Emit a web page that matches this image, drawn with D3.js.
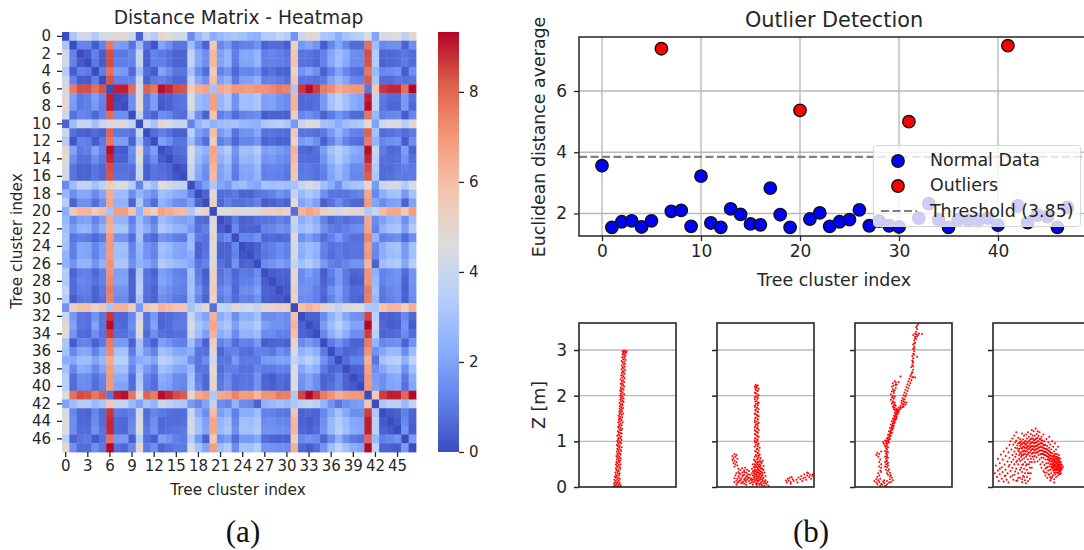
<!DOCTYPE html>
<html><head><meta charset="utf-8">
<script src="https://cdn.jsdelivr.net/npm/d3@7"></script>
<style>html,body{margin:0;background:#fff}svg{display:block}text{font-family:"DejaVu Sans",sans-serif;fill:#262626}</style>
</head><body><svg id="c" width="1084" height="550"></svg>
<script>
// upper triangle of the distance matrix: row r holds columns r+1..47
const distanceRows = [
[3.15,4.2,4.2,3.3,4.3,4.4,5,5,4.1,.5,4.1,3.3,5,4.8,4.3,4.3,1.4,2.65,3.4,2.25,2.65,2.9,3.15,2.9,2.5,2.4,3.3,3.3,3.9,3.4,1.6,4.1,5,4.6,3.15,3.0,2.25,3.0,3.4,3.5,4.6,2.0,4.4,4.6,4.7,3.5,5],
[1.2,1.2,.35,1.2,7.6,1.9,1.75,.8,2.8,.8,.2,2.0,1.5,.9,.9,2.8,1.5,.5,5.6,1.3,1.75,.9,1.1,1.1,1.6,.5,.7,.7,.35,5.3,1.75,2.0,1.6,.35,1.3,2.1,1.3,.7,.7,7.8,2.8,1.3,1.5,1.5,.5,1.5],
[.3,1.2,.35,8.4,1.0,1.0,1.3,3.9,.45,1.2,1.0,.8,.5,.5,3.8,2.1,1.5,6.2,1.9,2.5,1.1,2.1,2.1,2.5,1.1,1.3,1.1,.9,5.8,.9,.9,.7,1.2,2.1,2.8,2.25,1.5,1.4,8.4,3.3,.6,.6,.7,.9,.7],
[1.0,.3,8.4,1.1,1.1,1.2,3.9,.35,1.1,1.1,.8,.5,.5,3.8,2.1,1.5,6.2,2.0,2.5,1.0,2.0,2.0,2.5,1.1,1.2,1.1,1.0,5.9,.8,.8,.6,1.2,2.1,2.8,2.1,1.4,1.4,8.3,3.3,.5,.6,.7,1.0,.7],
[1.1,7.8,1.9,1.75,.6,2.9,.7,.3,2.0,1.5,.9,.9,2.9,1.4,.7,5.4,1.2,1.6,.6,1.3,1.2,1.6,.6,.8,.5,.45,5.1,1.6,2.0,1.5,.45,1.2,2.0,1.3,.8,.7,7.7,2.65,1.3,1.4,1.6,.3,1.5],
[8.3,1.2,1.1,1.2,4.0,.45,1.0,1.2,.9,.6,.6,3.8,2.1,1.5,6.0,1.9,2.4,1.0,1.9,1.9,2.4,1.1,1.2,1.0,.8,5.7,.9,.9,.8,1.0,2.0,2.65,2.0,1.3,1.2,8.2,3.15,.7,.7,.9,.8,.9],
[9.0,9.0,7.9,4.4,8.1,7.7,9.2,8.9,8.4,8.3,5.4,6.5,6.7,3.0,6.6,6.4,7.0,7.0,6.9,7.1,7.1,7.3,7.6,7.4,3.1,8.7,9.25,8.6,7.6,7.3,6.5,6.8,7.0,7.0,.9,5.6,8.7,8.9,8.9,7.8,9.3],
[.2,1.5,4.8,1.0,1.9,.35,.5,.8,.9,4.6,2.8,2.4,6.8,2.5,3.15,1.6,2.9,2.8,3.15,1.9,2.0,1.6,1.4,6.3,.6,.7,.8,1.75,3.0,3.5,2.9,2.25,2.0,9.0,3.9,1.0,.7,.7,1.75,.8],
[1.5,4.8,1.0,1.9,.3,.45,.8,.9,4.6,2.8,2.4,6.8,2.5,3.15,1.6,2.9,2.8,3.15,1.9,2.0,1.6,1.4,6.3,.6,.6,.8,1.75,3.0,3.5,2.9,2.25,2.0,9.2,3.9,.9,.6,.6,1.75,.6],
[3.8,.8,.5,1.5,1.3,.8,.7,3.4,1.5,.45,5.8,1.1,1.5,.7,1.2,1.3,1.5,.35,.5,.5,.45,5.4,1.3,1.5,1.2,.45,1.0,1.6,1.2,.7,.7,7.7,2.65,1.1,1.3,1.4,.35,1.3],
[4.0,3.0,4.9,4.6,4.0,4.0,1.2,2.5,3.15,2.4,2.8,2.9,3.0,2.65,2.5,2.4,3.15,3.3,3.5,3.15,1.75,4.1,4.7,4.5,3.0,2.8,2.25,2.8,3.15,3.3,4.7,2.0,4.2,4.5,4.6,3.4,4.9],
[.7,1.1,.8,.45,.45,3.5,1.9,1.4,6.0,1.75,2.25,.9,1.6,1.6,2.1,.8,.9,.8,.7,5.6,.9,.9,.7,1.0,1.75,2.5,1.75,1.2,1.1,8.1,3.0,.7,.8,1.0,.7,1.0],
[1.9,1.5,.9,.9,2.8,1.5,.7,5.3,1.1,1.5,.6,1.3,1.2,1.6,.5,.7,.5,.5,5.1,1.75,2.0,1.5,.45,1.2,2.0,1.2,.8,.7,7.6,2.5,1.3,1.5,1.6,.35,1.5],
[.3,.7,.8,4.7,2.9,2.4,6.7,2.8,3.3,1.6,2.9,2.8,3.3,1.9,2.0,1.75,1.5,6.3,.6,.5,.8,1.9,3.0,3.5,2.9,2.25,2.1,9.2,4.0,1.0,.6,.7,1.9,.5],
[.5,.6,4.4,2.65,2.0,6.5,2.4,2.9,1.4,2.65,2.5,3.0,1.6,1.75,1.5,1.3,6.1,.7,.7,.7,1.6,2.65,3.3,2.65,2.0,1.9,8.9,3.7,.8,.7,.8,1.6,.8],
[.2,3.9,2.25,1.5,6.2,2.0,2.5,1.1,2.1,2.1,2.65,1.2,1.3,1.2,1.0,5.8,.9,1.0,.8,1.2,2.1,2.8,2.1,1.4,1.4,8.4,3.3,.7,.7,.9,1.1,1.0],
[3.8,2.1,1.4,6.1,1.9,2.4,1.0,2.0,2.0,2.5,1.1,1.2,1.1,.9,5.7,1.0,1.0,.8,1.1,2.0,2.65,2.0,1.3,1.3,8.2,3.15,.7,.8,1.0,1.0,1.0],
[1.1,1.9,3.15,2.1,1.75,2.65,2.8,2.25,2.1,3.0,2.9,3.0,2.8,3.0,4.0,4.5,4.1,2.9,2.25,1.5,2.65,3.0,3.15,4.9,1.75,4.0,4.3,4.3,3.3,4.6],
[.5,4.6,.7,.8,1.0,.5,.5,.9,1.0,1.2,1.6,1.3,3.8,2.65,3.15,2.8,1.5,.9,.9,.9,1.1,1.3,6.6,1.3,2.25,2.9,3.0,1.75,3.0],
[5.2,.6,1.1,.8,.8,.9,1.2,.35,.5,.7,.5,4.8,2.0,2.5,1.9,.45,.8,1.4,.9,.6,.6,6.9,2.0,1.4,1.9,2.0,.45,2.0],
[4.6,4.7,5.0,4.6,4.5,4.8,5.2,5.2,5.5,5.1,.8,6.3,6.7,6.3,5.3,4.9,4.2,4.8,5.0,5.0,3.2,3.9,6.1,6.6,6.6,5.6,6.8],
[.35,1.0,.45,.5,.8,.8,.9,1.2,1.0,4.0,2.25,2.8,2.25,1.2,.6,.9,.7,.9,1.0,6.6,1.4,1.9,2.5,2.65,1.5,2.8],
[1.4,.5,.5,.45,1.2,1.3,1.6,1.4,3.7,2.8,3.15,2.65,1.6,1.1,.9,1.1,1.4,1.5,6.7,1.2,2.4,3.0,3.15,1.9,3.3],
[1.3,1.2,1.6,.6,.7,.6,.7,5.0,1.5,1.9,1.4,.7,1.2,1.75,1.1,.8,.8,7.4,2.5,1.1,1.3,1.5,.7,1.4],
[.2,.45,1.0,1.1,1.4,1.2,4.3,2.4,2.8,2.5,1.2,.8,1.0,.8,.9,.9,6.8,1.4,2.25,2.9,3.0,1.75,3.0],
[.5,.9,1.1,1.4,1.1,4.4,2.25,2.8,2.4,1.1,.7,1.0,.8,.9,.9,7.0,1.3,2.25,2.8,2.9,1.75,2.9],
[1.4,1.6,1.9,1.6,3.8,2.9,3.3,2.8,1.75,1.2,1.0,1.3,1.6,1.6,6.2,.5,2.8,3.15,3.3,2.1,3.4],
[.35,.5,.45,5.0,1.4,1.9,1.4,.35,1.1,1.75,1.0,.5,.6,7.1,2.4,1.2,1.4,1.6,.7,1.6],
[.45,.35,5.0,1.4,1.6,1.4,.5,.9,1.75,1.0,.35,.45,7.1,2.65,1.2,1.5,1.6,.5,1.6],
[.3,5.3,1.6,1.6,1.1,.6,1.5,2.0,1.2,.7,.7,7.6,2.9,1.0,1.3,1.5,.45,1.5],
[5.2,1.4,1.4,1.1,.45,1.2,1.9,1.1,.6,.5,7.5,2.65,.9,1.2,1.4,.45,1.4],
[5.9,6.3,6.0,5.1,4.5,3.8,4.5,4.6,4.7,3.2,3.15,5.7,6.2,6.2,5.3,6.4],
[.45,.5,1.4,2.4,3.15,2.1,1.6,1.5,8.5,3.5,.5,.45,.6,1.3,.6],
[.35,1.75,2.8,3.5,2.8,2.0,2.0,9.3,4.0,.6,.35,.45,1.6,.3],
[1.3,2.25,3.0,2.25,1.5,1.5,8.6,3.5,.5,.6,.7,1.4,.7],
[1.0,1.6,1.0,.5,.5,7.6,2.5,1.3,1.5,1.6,.5,1.6],
[.9,.5,.6,.8,7.1,1.6,2.1,2.65,2.65,1.4,2.8],
[.7,1.2,1.2,6.4,.9,3.0,3.4,3.5,2.4,3.7],
[.45,.5,6.8,1.5,2.1,2.8,2.9,1.5,2.9],
[.3,7.0,1.75,1.5,2.1,2.25,1.0,2.25],
[7.0,1.9,1.5,2.0,2.1,.8,2.1],
[5.6,8.6,9.0,9.0,8.0,9.3],
[3.15,3.6,3.6,2.65,3.8],
[.3,.45,1.1,.5],
[.3,1.3,.45],
[1.6,.35],
[1.75]
];
const heatXTicks = [0,3,6,9,12,15,18,21,24,27,30,33,36,39,42,45];
const heatYTicks = d3.range(0,48,2);
const colorbarTicks = [0,2,4,6,8];
const coolwarmStops = ["#3b4cc0","#6282ea","#8db0fe","#b9d0f9","#dddcdc","#f5c4ac","#f4987a","#dd5f4b","#b40426"];

const avgDistance = [3.56,1.55,1.73,1.76,1.56,1.76,7.38,2.07,2.10,1.58,3.22,1.69,1.55,2.15,1.97,1.66,1.63,2.83,1.96,1.55,5.37,1.82,2.02,1.58,1.73,1.80,2.12,1.60,1.75,1.60,1.56,5.00,1.85,2.32,1.80,1.55,1.80,1.78,1.78,1.85,1.62,7.48,2.25,1.70,1.95,1.90,1.55,2.20];
const thresholdValue = 3.85;
const legendLabels = ["Normal Data","Outliers","Threshold (3.85)"];
const scatterXTicks = [0,10,20,30,40];
const scatterYTicks = [2,4,6];
const zTicks = [0,1,2,3];

const cloudA = [[.36,.01],[.39,.01],[.42,.01],[.37,.03],[.40,.03],[.43,.04],[.38,.05],[.41,.06],[.36,.07],[.39,.08],[.42,.09],[.37,.1],[.40,.11],[.38,.13],[.41,.14],[.365,.16],[.395,.17],[.42,.18],[.38,.2],[.405,.21],[.37,.23],[.39,.24],[.415,.26],[.38,.27],[.40,.29],[.42,.3],[.375,.32],[.395,.33],[.41,.35],[.385,.37],[.405,.38],[.425,.4],[.38,.41],[.40,.43],[.42,.44],[.39,.46],[.41,.48],[.38,.49],[.43,.5],[.395,.52],[.415,.54],[.385,.55],[.405,.57],[.425,.58],[.39,.6],[.41,.62],[.43,.63],[.395,.65],[.415,.66],[.385,.68],[.405,.7],[.43,.71],[.395,.73],[.42,.74],[.41,.76],[.39,.78],[.435,.79],[.405,.81],[.425,.82],[.395,.84],[.415,.86],[.44,.87],[.40,.89],[.42,.9],[.39,.92],[.41,.94],[.435,.95],[.40,.97],[.425,.98],[.415,1.0],[.395,1.02],[.44,1.03],[.405,1.05],[.425,1.07],[.41,1.08],[.435,1.1],[.395,1.12],[.42,1.13],[.405,1.15],[.44,1.17],[.425,1.18],[.41,1.2],[.40,1.22],[.435,1.24],[.42,1.25],[.445,1.27],[.41,1.29],[.43,1.3],[.405,1.32],[.42,1.34],[.44,1.35],[.415,1.37],[.43,1.39],[.405,1.41],[.45,1.42],[.42,1.44],[.44,1.46],[.41,1.47],[.43,1.49],[.415,1.51],[.445,1.53],[.425,1.54],[.41,1.56],[.44,1.58],[.42,1.6],[.455,1.61],[.43,1.63],[.415,1.65],[.445,1.66],[.425,1.68],[.44,1.7],[.42,1.72],[.455,1.73],[.435,1.75],[.42,1.77],[.45,1.79],[.43,1.8],[.445,1.82],[.42,1.84],[.46,1.86],[.435,1.87],[.45,1.89],[.425,1.91],[.44,1.93],[.46,1.94],[.43,1.96],[.45,1.98],[.425,2.0],[.44,2.02],[.465,2.03],[.43,2.05],[.45,2.07],[.44,2.09],[.425,2.11],[.46,2.13],[.435,2.14],[.45,2.16],[.43,2.18],[.465,2.2],[.44,2.22],[.455,2.24],[.43,2.26],[.445,2.28],[.465,2.3],[.44,2.32],[.455,2.34],[.43,2.36],[.47,2.38],[.445,2.4],[.46,2.42],[.435,2.44],[.45,2.46],[.47,2.48],[.44,2.5],[.46,2.52],[.45,2.54],[.475,2.56],[.44,2.58],[.46,2.6],[.45,2.62],[.47,2.64],[.44,2.66],[.46,2.68],[.475,2.7],[.45,2.72],[.465,2.74],[.44,2.76],[.48,2.78],[.455,2.8],[.47,2.82],[.445,2.84],[.465,2.86],[.48,2.88],[.45,2.9],[.47,2.91],[.455,2.93],[.485,2.94],[.46,2.95],[.475,2.96],[.45,2.97],[.49,2.98],[.465,2.99]];
const cloudB = [[.40,2.24],[.42,2.22],[.39,2.2],[.41,2.18],[.43,2.15],[.40,2.13],[.42,2.1],[.39,2.07],[.41,2.04],[.43,2.01],[.40,1.98],[.42,1.95],[.39,1.92],[.41,1.88],[.43,1.85],[.40,1.82],[.42,1.79],[.39,1.76],[.41,1.73],[.43,1.7],[.40,1.67],[.42,1.64],[.39,1.61],[.41,1.58],[.43,1.55],[.40,1.52],[.42,1.49],[.39,1.46],[.41,1.43],[.43,1.4],[.40,1.37],[.42,1.34],[.39,1.31],[.41,1.28],[.43,1.25],[.40,1.22],[.42,1.19],[.39,1.16],[.41,1.13],[.43,1.1],[.40,1.07],[.42,1.04],[.39,1.01],[.41,.98],[.43,.95],[.40,.92],[.42,.89],[.44,.86],[.41,.83],[.43,.8],[.40,.77],[.42,.74],[.44,.71],[.41,.68],[.39,.66],[.43,.65],[.45,.63],[.38,.6],[.41,.6],[.44,.58],[.47,.57],[.40,.55],[.43,.54],[.46,.52],[.37,.5],[.39,.5],[.42,.49],[.45,.47],[.48,.46],[.38,.44],[.41,.44],[.44,.43],[.46,.41],[.36,.4],[.39,.39],[.42,.39],[.48,.37],[.44,.36],[.37,.35],[.40,.34],[.46,.33],[.49,.32],[.43,.31],[.36,.3],[.39,.29],[.45,.28],[.41,.27],[.47,.26],[.37,.25],[.50,.24],[.43,.23],[.39,.22],[.45,.21],[.48,.2],[.35,.19],[.41,.18],[.37,.17],[.44,.16],[.50,.15],[.47,.14],[.39,.13],[.42,.12],[.52,.11],[.36,.1],[.45,.09],[.48,.08],[.40,.07],[.51,.06],[.44,.05],[.37,.05],[.49,.03],[.53,.03],[.47,.02],
[.41,2.21],[.395,2.16],[.415,2.11],[.395,2.06],[.42,2.0],[.39,1.97],[.415,1.93],[.395,1.87],[.42,1.83],[.39,1.78],[.415,1.74],[.395,1.69],[.42,1.65],[.39,1.6],[.415,1.56],[.395,1.51],[.42,1.47],[.39,1.42],[.415,1.38],[.395,1.33],[.42,1.29],[.39,1.24],[.415,1.2],[.395,1.15],[.42,1.11],[.39,1.06],[.415,1.02],[.395,.97],[.42,.93],[.39,.88],[.415,.84],[.395,.79],[.42,.75],[.40,.7],[.43,.69],[.42,.62],[.39,.57],[.42,.55],[.45,.55],[.41,.51],[.44,.49],[.40,.47],[.43,.46],[.39,.44],[.42,.42],[.45,.41],[.41,.38],[.47,.39],[.43,.37],[.39,.35],[.45,.34],[.42,.33],[.38,.32],[.41,.31],[.47,.3],[.44,.29],[.4,.27],[.43,.26],[.38,.25],[.46,.24],[.41,.23],[.44,.21],[.38,.21],[.42,.19],[.47,.18],[.39,.17],[.45,.17],[.41,.15],[.36,.14],[.43,.14],[.49,.12],[.38,.11],[.46,.11],[.41,.09],[.43,.07],[.5,.09],[.46,.05],[.41,.04],
[.18,.72],[.2,.7],[.16,.68],[.19,.66],[.17,.63],[.21,.62],[.16,.59],[.18,.57],[.2,.55],[.17,.52],[.19,.5],[.21,.47],[.18,.45],
[.22,.4],[.26,.41],[.29,.42],[.24,.37],[.28,.36],[.31,.38],[.33,.35],[.22,.33],[.26,.32],[.3,.31],[.2,.3],[.24,.28],[.28,.27],[.32,.28],[.34,.27],[.19,.25],[.22,.24],[.26,.23],[.3,.22],[.33,.21],[.18,.19],[.21,.18],[.25,.18],[.28,.17],[.31,.16],[.2,.14],[.23,.13],[.27,.12],[.3,.11],[.33,.13],[.18,.11],[.21,.09],[.25,.08],[.28,.07],[.34,.08],[.2,.05],[.3,.05],[.23,.2],[.27,.26],[.29,.19],[.24,.15],[.32,.19],[.26,.1],[.22,.11],[.29,.14],[.35,.16],[.23,.3],[.28,.33],[.31,.24],
[.71,.14],[.73,.18],[.72,.1],[.75,.2],[.74,.14],[.76,.11],[.78,.17],[.77,.22],[.79,.13],[.76,.07],[.82,.16],[.84,.21],[.83,.1],[.86,.17],[.87,.24],[.89,.19],[.9,.28],[.91,.21],[.93,.25],[.92,.16],[.94,.3],[.95,.22],[.96,.27],[.97,.18],[.98,.24],[.99,.28],[.93,.32],[.88,.13]];
const cloudC = [[.27,.78],[.23,.75],[.25,.72],[.22,.7],[.24,.66],[.26,.6],[.25,.55],[.27,.5],[.25,.45],[.27,.42],[.26,.36],[.24,.3],[.27,.33],[.25,.25],[.23,.22],[.22,.17],[.2,.13],[.22,.1],[.24,.15],[.26,.18],[.25,.11],[.27,.07],[.29,.12],[.28,.05],[.3,.09],[.31,.03],[.33,.06],[.35,.1],[.3,.15],[.33,.13],[.36,.17],[.39,.15],[.37,.11],[.32,.02],[.26,.03],[.23,.06],[.38,.2],[.36,.23],[.34,.27],[.37,.26],[.33,.3],[.36,.31],[.34,.35],[.32,.38],[.35,.39],[.33,.43],[.31,.45],[.34,.47],[.32,.5],[.34,.53],[.31,.55],[.33,.58],[.32,.62],[.34,.64],[.31,.67],[.33,.7],[.32,.74],[.34,.76],[.31,.79],[.33,.82],[.32,.85],[.34,.87],[.31,.9],[.33,.92],[.30,.94],[.32,.96],[.35,.97],[.29,.98],[.33,1.0],[.31,1.02],[.34,1.03],[.36,1.05],[.33,1.07],[.35,1.09],[.37,1.12],[.34,1.14],[.36,1.17],[.38,1.19],[.35,1.22],[.37,1.24],[.39,1.27],[.36,1.29],[.38,1.32],[.40,1.34],[.37,1.37],[.39,1.39],[.41,1.41],[.38,1.44],[.40,1.46],[.42,1.48],[.39,1.5],[.41,1.52],[.43,1.54],[.40,1.56],[.42,1.58],[.44,1.6],[.41,1.62],[.43,1.64],[.45,1.65],[.42,1.67],[.44,1.69],[.40,1.7],[.46,1.7],[.41,1.73],[.39,1.76],[.47,1.74],[.42,1.78],[.40,1.8],[.38,1.83],[.41,1.85],[.39,1.88],[.37,1.91],[.40,1.93],[.38,1.96],[.41,1.98],[.39,2.0],[.37,2.03],[.40,2.06],[.38,2.09],[.41,2.12],[.39,2.14],[.42,2.17],[.38,2.2],[.40,2.22],[.43,2.24],[.39,2.27],[.42,2.29],[.45,2.3],[.41,2.32],[.47,2.42],
[.33,.51],[.325,.57],[.33,.66],[.325,.72],[.33,.78],[.32,.88],[.33,.96],[.345,1.0],[.32,1.0],[.35,1.04],[.34,1.08],[.36,1.11],[.355,1.15],[.37,1.18],[.365,1.21],[.38,1.25],[.375,1.29],[.395,1.31],[.385,1.35],[.4,1.39],[.395,1.42],[.41,1.45],[.405,1.49],[.425,1.5],[.415,1.55],[.43,1.58],[.42,1.61],[.44,1.63],[.43,1.67],[.415,1.68],[.45,1.68],[.43,1.71],[.47,1.72],[.49,1.75],[.45,1.74],[.4,1.75],[.41,1.8],[.39,1.85],[.48,1.84],[.5,1.8],[.51,1.85],[.5,1.91],[.52,2.0],[.39,1.97],[.4,2.1],[.42,2.24],
[.47,1.78],[.5,1.76],[.52,1.8],[.49,1.82],[.53,1.85],[.5,1.87],[.48,1.89],[.51,1.92],[.49,1.95],[.52,1.98],[.5,2.01],[.53,2.04],[.51,2.07],[.54,2.1],[.52,2.13],[.55,2.16],[.53,2.19],[.56,2.22],[.54,2.25],[.57,2.28],[.55,2.31],[.58,2.34],[.56,2.37],[.59,2.4],[.57,2.43],[.6,2.41],[.62,2.4],[.58,2.47],[.59,2.52],[.6,2.57],[.58,2.62],[.59,2.67],[.6,2.72],[.59,2.77],[.6,2.82],[.64,2.85],[.59,2.87],[.6,2.92],[.61,2.97],[.6,3.02],[.61,3.07],[.6,3.12],[.62,3.16],[.61,3.21],[.63,3.24],[.62,3.29],[.6,3.33],[.64,3.3],[.62,3.36],[.65,3.33],[.69,3.35],[.66,3.36],[.63,3.4],[.64,3.46],[.63,3.5],[.64,3.53],[.65,3.57],[.59,2.5],[.6,2.64],[.595,2.75],[.61,2.9],[.61,3.04],[.61,3.14],[.62,3.26],[.63,3.34]];
const cloudD = [[.02,.3],[.03,.47],[.04,.22],[.05,.62],[.05,.36],[.06,.13],[.07,.52],[.07,.28],[.08,.71],[.09,.43],[.09,.18],[.1,.6],[.1,.33],[.11,.12],[.11,.78],[.12,.49],[.12,.24],[.13,.68],[.13,.38],[.14,.85],[.14,.16],[.15,.56],[.15,.3],[.16,.76],[.16,.45],[.16,.1],[.17,.92],[.17,.64],[.18,1.0],[.18,.35],[.18,.22],[.19,.82],[.19,.55],[.2,1.06],[.2,.7],[.2,.42],[.21,.93],[.21,.16],[.21,.6],[.22,1.13],[.22,.78],[.22,.5],[.22,.27],[.23,.98],[.23,.66],[.23,.86],[.24,1.2],[.24,1.02],[.24,.72],[.24,.4],[.25,.91],[.25,.58],[.25,.15],[.26,1.08],[.26,.8],[.26,.5],[.26,.3],[.27,.96],[.27,.7],[.27,.84],[.27,.62],[.28,1.05],[.28,.9],[.28,.75],[.28,.57],[.28,.2],[.29,1.0],[.29,.85],[.29,.66],[.29,.42],[.3,1.17],[.3,.94],[.3,.78],[.3,.6],[.3,.33],[.3,.11],[.31,1.04],[.31,.88],[.31,.7],[.31,.5],[.31,.24],[.32,1.12],[.32,.97],[.32,.8],[.32,.63],[.32,.4],[.33,1.0],[.33,.86],[.33,.73],[.33,.55],[.33,.15],[.33,.3],[.34,1.15],[.34,.92],[.34,.78],[.34,.66],[.34,.47],[.34,.08],[.35,1.06],[.35,.87],[.35,.7],[.35,.38],[.35,.22],[.36,1.2],[.36,.98],[.36,.82],[.36,.6],[.36,.13],[.37,1.1],[.37,.9],[.37,.75],[.37,.5],[.37,.3],[.38,1.03],[.38,.86],[.38,.68],[.38,.42],[.38,.18],[.39,1.16],[.39,.96],[.39,.8],[.39,.62],[.4,1.25],[.4,1.06],[.4,.9],[.4,.72],[.4,.55],[.41,1.13],[.41,.98],[.41,.83],[.41,.66],[.42,1.22],[.42,1.03],[.42,.88],[.42,.75],[.42,.6],[.43,1.12],[.43,.95],[.43,.8],[.43,.68],[.44,1.28],[.44,1.05],[.44,.9],[.44,.74],[.45,1.16],[.45,.98],[.45,.84],[.45,.65],[.46,1.22],[.46,1.08],[.46,.92],[.46,.76],[.46,.56],[.47,1.12],[.47,1.0],[.47,.86],[.47,.7],[.48,1.2],[.48,.94],[.48,.8],[.48,.6],[.49,1.05],[.49,.88],[.49,.72],[.49,.5],[.5,1.1],[.5,.96],[.5,.8],[.5,.64],[.5,.42],[.51,1.02],[.51,.87],[.51,.73],[.51,.55],[.52,1.15],[.52,.92],[.52,.78],[.52,.64],[.52,.35],[.53,1.0],[.53,.85],[.53,.7],[.53,.48],[.54,.92],[.54,.78],[.54,.6],[.54,.4],[.54,.25],[.55,1.05],[.55,.83],[.55,.68],[.55,.52],[.55,.32],[.56,.9],[.56,.74],[.56,.6],[.56,.44],[.56,.2],[.57,.98],[.57,.8],[.57,.66],[.57,.52],[.57,.36],[.58,1.1],[.58,.86],[.58,.7],[.58,.58],[.58,.45],[.58,.27],[.59,.93],[.59,.76],[.59,.62],[.59,.5],[.59,.38],[.59,.14],[.6,.82],[.6,.68],[.6,.56],[.6,.44],[.6,.3],[.61,1.0],[.61,.74],[.61,.62],[.61,.5],[.61,.4],[.61,.22],[.62,.88],[.62,.68],[.62,.58],[.62,.47],[.62,.36],[.62,.26],[.63,.78],[.63,.64],[.63,.54],[.63,.44],[.63,.32],[.63,.17],[.64,.96],[.64,.72],[.64,.6],[.64,.5],[.64,.41],[.64,.28],[.65,.82],[.65,.66],[.65,.56],[.65,.46],[.65,.37],[.65,.22],[.66,.72],[.66,.6],[.66,.52],[.66,.42],[.66,.32],[.67,.88],[.67,.64],[.67,.55],[.67,.46],[.67,.37],[.67,.25],[.68,.7],[.68,.58],[.68,.48],[.68,.4],[.68,.3],[.69,.62],[.69,.5],[.69,.42],[.69,.34],[.7,.55],[.7,.44],[.7,.36],[.71,.48],[.71,.4],[.72,.44],
[.25,.85],[.26,.95],[.27,.77],[.28,.98],[.29,.72],[.29,.93],[.3,.85],[.3,.69],[.31,.97],[.31,.78],[.32,.72],[.32,.88],[.33,.94],[.33,.79],[.34,1.0],[.34,.85],[.35,.95],[.35,.78],[.36,.72],[.36,.9],[.37,1.0],[.37,.83],[.38,.94],[.38,.76],[.39,.88],[.39,1.05],[.4,.98],[.4,.82],[.41,.9],[.41,1.06],[.41,.75],[.42,.96],[.42,.82],[.43,1.03],[.43,.88],[.44,.97],[.44,.82],[.45,1.06],[.45,.9],[.45,.76],[.46,1.0],[.46,.84],[.47,.93],[.47,.78],[.48,1.05],[.48,.87],[.49,.96],[.49,.8],[.5,1.02],[.5,.88],[.5,.72],[.51,.95],[.51,.8],[.52,.85],[.52,.72],[.53,.92],[.53,.77],[.54,.84],[.54,.7],[.55,.76],[.56,.82],[.56,.67],[.57,.72],[.57,.6],[.58,.78],[.58,.64],[.59,.69],[.59,.56],[.6,.74],[.6,.62],[.6,.5],[.61,.67],[.61,.56],[.61,.45],[.62,.62],[.62,.52],[.62,.42],[.63,.7],[.63,.58],[.63,.48],[.63,.38],[.64,.66],[.64,.55],[.64,.46],[.64,.36],[.65,.62],[.65,.51],[.65,.41],[.65,.31],[.66,.66],[.66,.56],[.66,.47],[.66,.37],[.67,.6],[.67,.5],[.67,.41],[.67,.31],[.68,.64],[.68,.53],[.68,.44],[.68,.35],[.69,.56],[.69,.46],[.69,.38],[.69,.28],[.7,.5],[.7,.4],[.7,.3],
[.07,.4],[.13,.25],[.17,.48],[.2,.25],[.23,.34],[.24,.55],[.26,.2],[.28,.38],[.3,.48],[.32,.22],[.35,.5],[.36,.3],[.38,.55],[.39,.3],[.4,.42],[.43,.55],[.53,.32],[.55,.42],[.57,.28],[.59,.22],[.6,.18],[.63,.1],[.24,.13],[.3,.17]];
const clouds = [cloudA,cloudB,cloudC,cloudD];

// ---------- expand triangle
const n = distanceRows.length+1;
const matrix = d3.range(n).map(()=>new Array(n).fill(0));
distanceRows.forEach((row,r)=>{
  if(row.length!==n-1-r) throw new Error("row "+r+" has "+row.length+" values, wants "+(n-1-r));
  row.forEach((v,k)=>{matrix[r][r+1+k]=v;matrix[r+1+k][r]=v;});
});

const svg = d3.select("#c");
const INK="#262626", GRID="#b9b9b9";
function styleAxis(g,w){g.selectAll("path").attr("stroke",INK).attr("stroke-width",w||1.3);
  g.selectAll("line").attr("stroke",INK).attr("stroke-width",w||1.3);
  g.selectAll("text").attr("fill",INK).attr("font-family",'"DejaVu Sans"');}
const label=(x,y,t,size,opt={})=>svg.append("text").attr("x",x).attr("y",y).attr("text-anchor",opt.anchor||"middle")
  .attr("font-size",size).attr("transform",opt.rot?`rotate(${opt.rot} ${x} ${y})`:null).text(t);

// ---------- heatmap
const hx=d3.scaleBand().domain(d3.range(n)).range([62,416]);
const hy=d3.scaleBand().domain(d3.range(n)).range([32,452]);
const vmax=9.33;
const cinterp=d3.scaleLinear().domain(coolwarmStops.map((_,i)=>i/(coolwarmStops.length-1)*vmax)).range(coolwarmStops).interpolate(d3.interpolateRgb);
svg.append("g").selectAll("rect").data(d3.cross(d3.range(n),d3.range(n))).join("rect")
  .attr("x",d=>hx(d[1])).attr("y",d=>hy(d[0])).attr("width",hx.bandwidth()+.4).attr("height",hy.bandwidth()+.4)
  .attr("fill",d=>cinterp(matrix[d[0]][d[1]]));
const hxAxis=svg.append("g").attr("transform","translate(0,452)").call(d3.axisBottom(hx).tickValues(heatXTicks).tickSize(5).tickPadding(3));
hxAxis.select("path").remove();hxAxis.selectAll("text").attr("font-size",15);styleAxis(hxAxis);
const hyAxis=svg.append("g").attr("transform","translate(62,0)").call(d3.axisLeft(hy).tickValues(heatYTicks).tickSize(5).tickPadding(6));
hyAxis.select("path").remove();hyAxis.selectAll("text").attr("font-size",15);styleAxis(hyAxis);
label(238.5,24,"Distance Matrix - Heatmap",18.6);
label(238,495,"Tree cluster index",15.3);
label(22,241,"Tree cluster index",15.3,{rot:-90});

// colorbar
const cbY=d3.scaleLinear().domain([0,vmax]).range([452,32]);
const defs=svg.append("defs");
const grad=defs.append("linearGradient").attr("id","cw").attr("x1",0).attr("y1",1).attr("x2",0).attr("y2",0);
coolwarmStops.forEach((c,i)=>grad.append("stop").attr("offset",i/(coolwarmStops.length-1)).attr("stop-color",c));
svg.append("rect").attr("x",438).attr("y",32).attr("width",21).attr("height",420).attr("fill","url(#cw)");
const cbAxis=svg.append("g").attr("transform","translate(459,0)").call(d3.axisRight(cbY).tickValues(colorbarTicks).tickSize(5).tickPadding(5));
cbAxis.select("path").remove();cbAxis.selectAll("text").attr("font-size",15);styleAxis(cbAxis);

// ---------- scatter
const sx=d3.scaleLinear().domain([0,40]).range([602,998]);
const sy=d3.scaleLinear().domain([2,6]).range([213.5,91]);
const plot={l:579,r:1090,t:37,b:236};
const sg=svg.append("g");
sg.append("g").selectAll("line").data(scatterXTicks).join("line").attr("x1",d=>sx(d)).attr("x2",d=>sx(d)).attr("y1",plot.t).attr("y2",plot.b).attr("stroke",GRID).attr("stroke-width",1.4);
sg.append("g").selectAll("line").data(scatterYTicks).join("line").attr("y1",d=>sy(d)).attr("y2",d=>sy(d)).attr("x1",plot.l).attr("x2",plot.r).attr("stroke",GRID).attr("stroke-width",1.4);
const isOut=v=>v>thresholdValue;
sg.append("g").selectAll("circle").data(avgDistance.map((v,i)=>[i,v]).filter(d=>!isOut(d[1]))).join("circle")
  .attr("cx",d=>sx(d[0])).attr("cy",d=>sy(d[1])).attr("r",6.2).attr("fill","#0000ff").attr("stroke","#111").attr("stroke-width",1.4);
sg.append("g").selectAll("circle").data(avgDistance.map((v,i)=>[i,v]).filter(d=>isOut(d[1]))).join("circle")
  .attr("cx",d=>sx(d[0])).attr("cy",d=>sy(d[1])).attr("r",6.2).attr("fill","#ff0000").attr("stroke","#111").attr("stroke-width",1.4);
sg.append("line").attr("x1",plot.l).attr("x2",plot.r).attr("y1",sy(thresholdValue)).attr("y2",sy(thresholdValue)).attr("stroke","#808080").attr("stroke-width",2.2).attr("stroke-dasharray","8,3.5");
const sxAxis=svg.append("g").attr("transform",`translate(0,${plot.b})`).call(d3.axisBottom(sx).tickValues(scatterXTicks).tickSize(5).tickPadding(4));
sxAxis.select("path").remove();sxAxis.selectAll("text").attr("font-size",17);styleAxis(sxAxis);
const syAxis=svg.append("g").attr("transform",`translate(${plot.l},0)`).call(d3.axisLeft(sy).tickValues(scatterYTicks).tickSize(5).tickPadding(7).tickFormat(d3.format("d")));
syAxis.select("path").remove();syAxis.selectAll("text").attr("font-size",17);styleAxis(syAxis);
sg.append("rect").attr("x",plot.l).attr("y",plot.t).attr("width",plot.r-plot.l).attr("height",plot.b-plot.t).attr("fill","none").attr("stroke",INK).attr("stroke-width",1.5);
label(834,27,"Outlier Detection",20.8);
label(834,286,"Tree cluster index",17.4);
label(545,137,"Euclidean distance average",17.4,{rot:-90});
// legend
const lg=svg.append("g");
lg.append("rect").attr("x",873.5).attr("y",145.5).attr("width",207).attr("height",81).attr("rx",3).attr("fill","#fff").attr("fill-opacity",.8).attr("stroke","#d6d6d6").attr("stroke-width",1);
lg.append("circle").attr("cx",898).attr("cy",161).attr("r",6.2).attr("fill","#0000ff").attr("stroke","#111").attr("stroke-width",1.4);
lg.append("circle").attr("cx",898).attr("cy",186).attr("r",6.2).attr("fill","#ff0000").attr("stroke","#111").attr("stroke-width",1.4);
lg.append("line").attr("x1",881).attr("x2",917).attr("y1",211).attr("y2",211).attr("stroke","#808080").attr("stroke-width",2.2).attr("stroke-dasharray","8,3.5");
legendLabels.forEach((t,i)=>label(930,[166,191,217][i],t,17.4,{anchor:"start"}));

// ---------- point clouds
const panelLefts=[579,717,855,993];
const pz=d3.scaleLinear().domain([0,3]).range([487,350]);
const pTop=323;
clouds.forEach((pts,i)=>{
  const L=panelLefts[i];
  const px=d3.scaleLinear().domain([0,1]).range([L,L+97]);
  const g=svg.append("g");
  g.append("g").selectAll("line").data(zTicks.slice(1)).join("line").attr("x1",L).attr("x2",L+97).attr("y1",d=>pz(d)).attr("y2",d=>pz(d)).attr("stroke",GRID).attr("stroke-width",1.4);
  g.append("g").selectAll("circle").data(pts).join("circle").attr("cx",d=>px(d[0])).attr("cy",d=>pz(d[1])).attr("r",1).attr("fill","#ff0000");
  const ax=svg.append("g").attr("transform",`translate(${L},0)`).call(d3.axisLeft(pz).tickValues(zTicks).tickSize(5).tickPadding(7).tickFormat(i===0?d3.format("d"):()=>""));
  ax.select("path").remove();ax.selectAll("text").attr("font-size",17);styleAxis(ax,1.5);
  g.append("rect").attr("x",L).attr("y",pTop).attr("width",97).attr("height",487-pTop).attr("fill","none").attr("stroke",INK).attr("stroke-width",1.6);
});
label(545,405,"Z [m]",17.4,{rot:-90});

// ---------- captions
svg.append("text").attr("x",243).attr("y",542).attr("text-anchor","middle").attr("font-size",31).style("font-family",'"Liberation Serif",serif').style("fill","#111").text("(a)");
svg.append("text").attr("x",811).attr("y",542).attr("text-anchor","middle").attr("font-size",31).style("font-family",'"Liberation Serif",serif').style("fill","#111").text("(b)");
</script></body></html>
